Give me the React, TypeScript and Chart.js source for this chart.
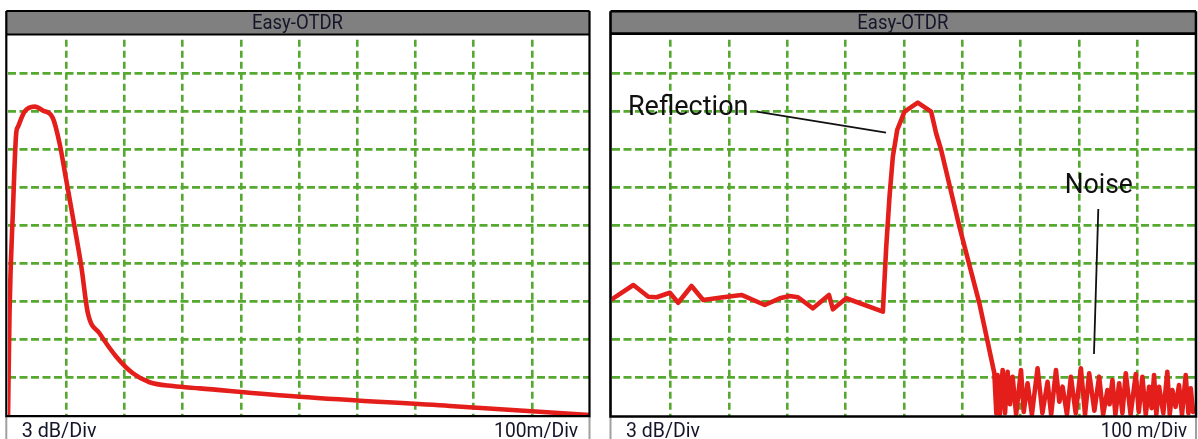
import React, { useEffect, useRef } from "react";
import { Chart, registerables } from "chart.js";

Chart.register(...registerables);

// ---------- DATA ----------
// Left trace: distance (m) and level (dB)
const LEFT_DIST = [0, 2.6, 8.3, 14.1, 17.1, 28.4, 45.6, 59.8, 77.0, 88.6, 100.1, 114.4, 125.9, 137.2, 157.4, 186.1, 214.6, 243.3, 283.4, 329.3, 501.3, 759.2, 1000];
const LEFT_DB = [-0.3, 8.1, 16.0, 22.3, 22.8, 24.0, 24.4, 24.1, 23.5, 21.5, 18.6, 14.9, 11.8, 8.1, 6.5, 4.66, 3.35, 2.64, 2.34, 2.16, 1.5, 0.77, 0.05];

// Right trace: backscatter, reflection, fall
const RIGHT_DIST = [0, 36.6, 62.2, 76.4, 99.1, 113.3, 136.2, 156.1, 190.3, 221.7, 261.5, 287.2, 304.3, 318.5, 344.1, 371.5, 378.3, 401.2, 463.8, 469.6, 475.2, 480.9, 488.4, 500.9, 523.6, 546.5, 555.0, 563.6, 594.9, 629.1, 654.7, 658.1];
const RIGHT_DB = [9.2, 10.32, 9.39, 9.35, 9.71, 8.92, 10.24, 9.13, 9.35, 9.53, 8.74, 9.27, 9.45, 9.35, 8.48, 9.53, 8.40, 9.27, 8.21, 13.34, 17.29, 20.45, 22.56, 24.0, 24.71, 24.0, 22.3, 20.98, 14.92, 8.87, 3.35, 0.17];
// Right trace: noise floor
const NOISE_DIST = [660.3, 664, 668.9, 673, 677.4, 681.5, 686.0, 692, 700.3, 705, 711.6, 719, 728.7, 737, 745.8, 752, 760.2, 766, 771.5, 779, 785.8, 794, 802.9, 810, 817.1, 826, 834.2, 841, 848.4, 852, 856.9, 862, 868.4, 874, 879.8, 888, 896.9, 902, 908.2, 914, 919.7, 924, 928.2, 932, 936.8, 944, 950.9, 955, 959.5, 965, 970.9, 976, 982.4, 987, 991.0, 995];
const NOISE_DB = [3.21, 0.1, 3.61, 0.2, 3.47, 0.9, 3.08, 0.1, 3.61, 0.3, 2.56, 0.1, 3.74, 0.2, 2.68, 0.1, 3.61, 1.1, 2.29, 0.1, 3.08, 0.2, 3.74, 0.1, 3.35, 0.4, 3.08, 0.1, 2.03, 0.9, 2.82, 0.1, 2.56, 0.2, 3.35, 0.1, 3.29, 0.3, 3.08, 0.1, 2.29, 0.6, 3.21, 0.1, 2.29, 0.2, 3.47, 0.1, 2.03, 0.7, 2.42, 0.1, 3.21, 0.2, 2.16, 0.3];

// Axes (10 divisions each)
const X_MAX = 1000;
const X_STEP = 100;
const Y_MAX = 30;
const Y_STEP = 3;

// Texts
const TITLE = "Easy-OTDR";
const LEFT_Y_DIV = "3 dB/Div";
const LEFT_X_DIV = "100m/Div";
const RIGHT_Y_DIV = "3 dB/Div";
const RIGHT_X_DIV = "100 m/Div";
const LABEL_REFLECTION = "Reflection";
const LABEL_NOISE = "Noise";

// ---------- STYLE ----------
const GREEN = "#56a930";
const RED = "#e41f1b";
const TEXT_DARK = "#15152a";
const CANVAS_H = 439;

type Frame = { left: number; right: number; top: number; titleLine: number; bottom: number; lw: number };
type TextSpec = { text: string; x: number; base: number; cap: number; w: number; align: "left" | "right" | "center" };
type Annot = {
  label: { text: string; x: number; y: number; cap: number; w: number };
  line: [number, number, number, number];
};
type PanelCfg = {
  left: number;
  width: number;
  padding: { left: number; right: number; top: number; bottom: number };
  frame: Frame;
  footer: TextSpec[];
  annots: Annot[];
  xs: number[];
  ys: number[];
  monotone: boolean;
};

function fitText(ctx: CanvasRenderingContext2D, s: TextSpec, color: string) {
  const size = s.cap / 0.711;
  ctx.save();
  ctx.font = `400 ${size}px Roboto, "DejaVu Sans", sans-serif`;
  ctx.textAlign = "left";
  ctx.textBaseline = "alphabetic";
  const m = ctx.measureText(s.text);
  const ink = m.actualBoundingBoxLeft + m.actualBoundingBoxRight;
  const k = s.w / ink;
  let x0 = s.x;
  if (s.align === "right") x0 = s.x - s.w;
  if (s.align === "center") x0 = s.x - s.w / 2;
  ctx.translate(x0, s.base);
  ctx.scale(k, 1);
  ctx.fillStyle = color;
  ctx.fillText(s.text, m.actualBoundingBoxLeft, 0);
  ctx.restore();
}

function makePlugin(cfg: PanelCfg) {
  return {
    id: "otdrFrame",
    afterDraw(chart: any) {
      const ctx: CanvasRenderingContext2D = chart.ctx;
      const f = cfg.frame;
      const xs = chart.scales.x;
      const ys = chart.scales.y;
      ctx.save();
      // annotations
      for (const a of cfg.annots) {
        ctx.strokeStyle = "#111";
        ctx.lineWidth = 1.8;
        ctx.beginPath();
        ctx.moveTo(xs.getPixelForValue(a.line[0]), ys.getPixelForValue(a.line[1]));
        ctx.lineTo(xs.getPixelForValue(a.line[2]), ys.getPixelForValue(a.line[3]));
        ctx.stroke();
        fitText(
          ctx,
          {
            text: a.label.text,
            x: xs.getPixelForValue(a.label.x),
            base: ys.getPixelForValue(a.label.y),
            cap: a.label.cap,
            w: a.label.w,
            align: "left",
          },
          "#111"
        );
      }
      // footer strip
      ctx.fillStyle = "#ffffff";
      ctx.fillRect(f.left, f.bottom, f.right - f.left, CANVAS_H - f.bottom);
      ctx.strokeStyle = "#a0a0a0";
      ctx.lineWidth = 2;
      ctx.beginPath();
      ctx.moveTo(f.left, f.bottom);
      ctx.lineTo(f.left, CANVAS_H);
      ctx.moveTo(f.right, f.bottom);
      ctx.lineTo(f.right, CANVAS_H);
      ctx.stroke();
      // title bar
      ctx.fillStyle = "#808080";
      ctx.fillRect(f.left, f.top, f.right - f.left, f.titleLine - f.top);
      // black frame
      ctx.strokeStyle = "#000";
      ctx.lineWidth = f.lw;
      ctx.beginPath();
      ctx.moveTo(f.left, f.top);
      ctx.lineTo(f.right, f.top);
      ctx.moveTo(f.left, f.titleLine);
      ctx.lineTo(f.right, f.titleLine);
      ctx.moveTo(f.left, f.top);
      ctx.lineTo(f.left, f.bottom);
      ctx.moveTo(f.right, f.top);
      ctx.lineTo(f.right, f.bottom);
      ctx.moveTo(f.left - f.lw / 2, f.bottom);
      ctx.lineTo(f.right + f.lw / 2, f.bottom);
      ctx.stroke();
      // title text
      fitText(ctx, { text: TITLE, x: (f.left + f.right) / 2, base: 29.4, cap: 14, w: 90, align: "center" }, TEXT_DARK);
      for (const t of cfg.footer) fitText(ctx, t, TEXT_DARK);
      ctx.restore();
    },
  };
}

function Panel({ cfg }: { cfg: PanelCfg }) {
  const ref = useRef<HTMLCanvasElement>(null);
  useEffect(() => {
    const canvas = ref.current;
    if (!canvas) return;
    const data = cfg.xs.map((x, i) => ({ x, y: cfg.ys[i] }));
    const hideEdge = (max: number) => (c: any) =>
      c.tick && (c.tick.value === 0 || c.tick.value === max) ? "rgba(0,0,0,0)" : GREEN;
    const chart = new Chart(canvas, {
      type: "line",
      data: {
        datasets: [
          {
            data,
            borderColor: RED,
            borderWidth: 4.6,
            pointRadius: 0,
            tension: cfg.monotone ? 0.4 : 0,
            cubicInterpolationMode: cfg.monotone ? "monotone" : "default",
            borderJoinStyle: "round",
            borderCapStyle: "round",
            fill: false,
          } as any,
        ],
      },
      options: {
        animation: false,
        responsive: false,
        devicePixelRatio: 1,
        events: [],
        layout: { padding: cfg.padding },
        plugins: { legend: { display: false }, tooltip: { enabled: false }, title: { display: false } },
        scales: {
          x: {
            type: "linear",
            min: 0,
            max: X_MAX,
            ticks: { display: false, stepSize: X_STEP },
            grid: { color: hideEdge(X_MAX), lineWidth: 2.6, drawTicks: false },
            border: { display: false, dash: [7, 4], dashOffset: 7 },
          },
          y: {
            type: "linear",
            min: 0,
            max: Y_MAX,
            ticks: { display: false, stepSize: Y_STEP },
            grid: { color: hideEdge(Y_MAX), lineWidth: 2.7, drawTicks: false },
            border: { display: false, dash: [8, 3.5] },
          },
        },
      } as any,
      plugins: [makePlugin(cfg) as any],
    });
    return () => chart.destroy();
  }, [cfg]);
  return (
    <canvas
      ref={ref}
      width={cfg.width}
      height={CANVAS_H}
      style={{ position: "absolute", left: cfg.left, top: 0, width: cfg.width, height: CANVAS_H }}
    />
  );
}

const LEFT_CFG: PanelCfg = {
  left: 0,
  width: 600,
  padding: { left: 8, right: 10, top: 35.7, bottom: 23.3 },
  frame: { left: 6.3, right: 589.5, top: 11, titleLine: 34.5, bottom: 416.2, lw: 2.2 },
  footer: [
    { text: LEFT_Y_DIV, x: 21.7, base: 436.8, cap: 14.5, w: 75, align: "left" },
    { text: LEFT_X_DIV, x: 578.3, base: 436.8, cap: 14.5, w: 83.3, align: "right" },
  ],
  annots: [],
  xs: LEFT_DIST,
  ys: LEFT_DB,
  monotone: true,
};

const RIGHT_CFG: PanelCfg = {
  left: 600,
  width: 598,
  padding: { left: 12, right: 2, top: 35.7, bottom: 23.3 },
  frame: { left: 10.5, right: 596, top: 11.3, titleLine: 33.6, bottom: 416.5, lw: 2.6 },
  footer: [
    { text: RIGHT_Y_DIV, x: 26, base: 436.8, cap: 14.5, w: 74, align: "left" },
    { text: RIGHT_X_DIV, x: 587.3, base: 437.2, cap: 14.2, w: 85.6, align: "right" },
  ],
  annots: [
    { label: { text: LABEL_REFLECTION, x: 30.8, y: 23.74, cap: 19, w: 116.7 }, line: [247.8, 24.0, 469.2, 22.34] },
    { label: { text: LABEL_NOISE, x: 778.6, y: 17.56, cap: 20.3, w: 66 }, line: [832.7, 16.32, 825.3, 4.87] },
  ],
  xs: [...RIGHT_DIST, ...NOISE_DIST],
  ys: [...RIGHT_DB, ...NOISE_DB],
  monotone: false,
};

export default function App() {
  return (
    <div style={{ position: "fixed", left: 0, top: 0, width: 1198, height: CANVAS_H, background: "#fff", overflow: "hidden" }}>
      <Panel cfg={LEFT_CFG} />
      <Panel cfg={RIGHT_CFG} />
    </div>
  );
}
